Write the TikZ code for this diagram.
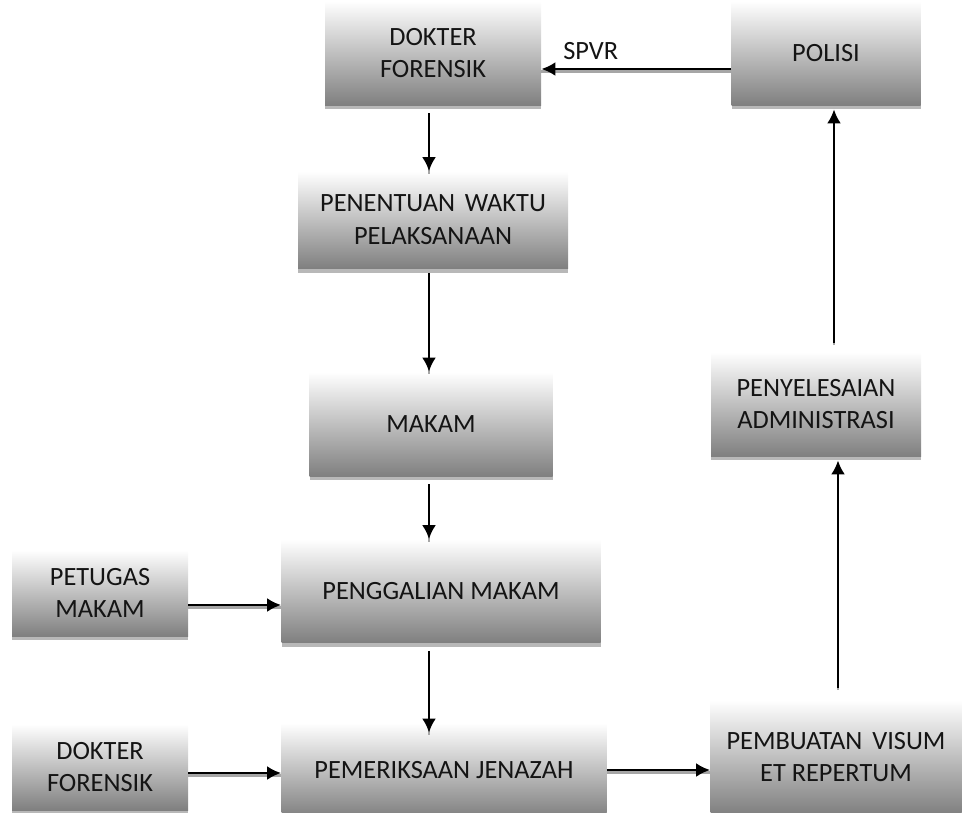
\documentclass[tikz,border=0pt]{standalone}
\usepackage{fontspec}
\setmainfont{Carlito}
\usetikzlibrary{arrows.meta,shadows}
\def\px{0.02cm}
\tikzset{
    tahap/.style={shading=axis, top color=white, bottom color=black!50,
        general shadow={fill=black!28, shadow yshift=-4*\px},
        align=center, inner sep=0pt, text=black!92,
        font=\fontsize{15}{18.7}\selectfont},
    alur/.style={-{Latex[length=14*\px,width=14*\px]}, line width=1.6pt,
        preaction={draw=black!35, line width=1.2pt, -,
            transform canvas={yshift=-2.5*\px}}},
}
\begin{document}
\begin{tikzpicture}[x=\px, y=-\px]
    \useasboundingbox (0,0) rectangle (967,812);
	% kotak tahapan
    \node[tahap, minimum width=216*\px, minimum height=104*\px] (dokA) at (433,53) {DOKTER\\FORENSIK};
    \node[tahap, minimum width=189*\px, minimum height=104*\px] (polisi) at (826,53) {POLISI};
    \node[tahap, minimum width=270*\px, minimum height=97*\px] (tentu) at (433,220) {PENENTUAN\hspace{0.15em} WAKTU\\PELAKSANAAN};
    \node[tahap, minimum width=243*\px, minimum height=104*\px] (makam) at (431,424) {MAKAM};
    \node[tahap, minimum width=319*\px, minimum height=103*\px] (gali) at (441,591) {PENGGALIAN MAKAM};
    \node[tahap, minimum width=325*\px, minimum height=94*\px] (periksa) at (444,770) {PEMERIKSAAN JENAZAH};
    \node[tahap, minimum width=176*\px, minimum height=86*\px] (petugas) at (100,593) {PETUGAS\\MAKAM};
    \node[tahap, minimum width=176*\px, minimum height=86*\px] (dokB) at (100,767) {DOKTER\\FORENSIK};
    \node[tahap, minimum width=251*\px, minimum height=114*\px] (visum) at (836,757) {PEMBUATAN\hspace{0.15em} VISUM\\ET REPERTUM};
    \node[tahap, minimum width=210*\px, minimum height=104*\px] (admin) at (816,404) {PENYELESAIAN\\ADMINISTRASI};
    % sumbu panah
    \coordinate (kiri) at (429,0);
    \coordinate (kanan) at (836,0);
    % panah
    \draw[alur] ([yshift=-16*\px]polisi.west) -- ([yshift=-16*\px]dokA.east)
        node[pos=0.74, above=2*\px, font=\fontsize{15}{18}\selectfont, text=black!92] (spvr) {SPVR};
    \draw[alur, shorten <=8*\px] (dokA.south -| kiri) -- (tentu.north -| kiri);
    \draw[alur, shorten <=4*\px] (tentu.south -| kiri) -- (makam.north -| kiri);
    \draw[alur, shorten <=8*\px] (makam.south -| kiri) -- (gali.north -| kiri);
    \draw[alur, shorten <=8*\px, shorten >=-10*\px] (gali.south -| kiri) -- (periksa.north -| kiri);
    \draw[alur] ([yshift=-12*\px]petugas.east) -- ([yshift=-12*\px]petugas.east -| gali.west);
    \draw[alur] ([yshift=-6*\px]dokB.east) -- ([yshift=-6*\px]dokB.east -| periksa.west);
    \draw[alur] (periksa.east) -- (visum.west |- periksa.east);
    \draw[alur, shorten <=12*\px, shorten >=4*\px] ([xshift=2*\px]visum.north -| kanan) -- ([xshift=2*\px]admin.south -| kanan);
    \draw[alur, shorten <=9*\px, shorten >=4*\px] ([xshift=-2*\px]admin.north -| kanan) -- ([xshift=-2*\px]polisi.south -| kanan);
\end{tikzpicture}
\end{document}
